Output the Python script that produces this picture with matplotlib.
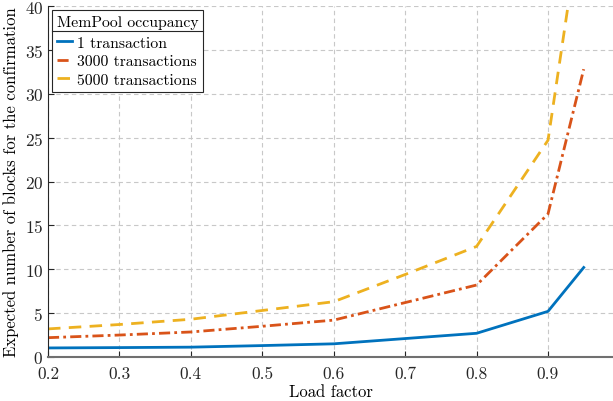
import numpy as np
import matplotlib
matplotlib.use("Agg")
import matplotlib.pyplot as plt
from matplotlib.lines import Line2D

plt.rcParams['font.family'] = 'serif'
plt.rcParams['font.serif'] = ['cmr10', 'DejaVu Serif']
plt.rcParams['mathtext.fontset'] = 'cm'
plt.rcParams['axes.formatter.use_mathtext'] = True

load = [0.2, 0.3, 0.4, 0.5, 0.6, 0.7, 0.8, 0.9, 0.95]
one_tx = [1.03, 1.07, 1.12, 1.3, 1.5, 2.1, 2.7, 5.2, 10.2]
tx_3000 = [2.2, 2.5, 2.85, 3.5, 4.2, 6.2, 8.2, 16.3, 32.8]
tx_5000 = [3.2, 3.7, 4.3, 5.3, 6.3, 9.4, 12.6, 24.7, 52.0]
labels = ['1 transaction', '3000 transactions', '5000 transactions']

fig = plt.figure(figsize=(6.13, 4.02), dpi=100)
ax = fig.add_axes([0.0783, 0.1095, 0.9217, 0.873])

ax.plot(load, one_tx, color='#0072BD', lw=2, ls='-', label=labels[0])
ax.plot(load, tx_3000, color='#D95319', lw=2, ls=(0, (4, 1.5, 1, 1.5)), label=labels[1])
ax.plot(load, tx_5000, color='#EDB120', lw=2, ls=(0, (4.5, 3)), label=labels[2])

ax.set_xlim(0.2, 0.991)
ax.set_ylim(0, 40)
ax.set_xticks(np.arange(0.2, 0.95, 0.1))
ax.set_xticklabels(['0.2', '0.3', '0.4', '0.5', '0.6', '0.7', '0.8', '0.9'])
ax.set_yticks(np.arange(0, 41, 5))
ax.grid(True, ls=(0, (4, 3)), color='#c8c8c8', lw=0.8)
ax.tick_params(direction='in', length=4, labelsize=12.5, colors='#262626')
ax.tick_params(axis='x', pad=6)
for s in ['top', 'right']:
    ax.spines[s].set_visible(False)
ax.spines['left'].set_color('#262626')
ax.spines['bottom'].set_color('#707070')
ax.spines['bottom'].set_linewidth(1.5)

ax.set_xlabel('Load factor', fontsize=12, labelpad=2)
ax.set_ylabel('Expected number of blocks for the confirmation', fontsize=12, labelpad=4)

leg = ax.legend(title='MemPool occupancy', loc='upper left', fontsize=11.3, title_fontsize=11.3,
                fancybox=False, edgecolor='#262626', framealpha=1, handlelength=1.0,
                handletextpad=0.3, borderpad=0.3, labelspacing=0.3,
                bbox_to_anchor=(0.0, 1.0), borderaxespad=0.25)
leg.get_frame().set_linewidth(0.8)
leg._legend_box.align = 'left'
leg._legend_box.sep = 5

# separator between the legend title and its entries
fig.canvas.draw()
inv = fig.transFigure.inverted()
fb = leg.get_frame().get_window_extent()
tb = leg.get_title().get_window_extent()
y_sep = tb.y0 - 2.5
x0, y0 = inv.transform((fb.x0, y_sep))
x1, _ = inv.transform((fb.x1, y_sep))
fig.add_artist(Line2D([x0, x1], [y0, y0], color='#262626', lw=0.8, transform=fig.transFigure))

fig.savefig('out.png', dpi=100)
